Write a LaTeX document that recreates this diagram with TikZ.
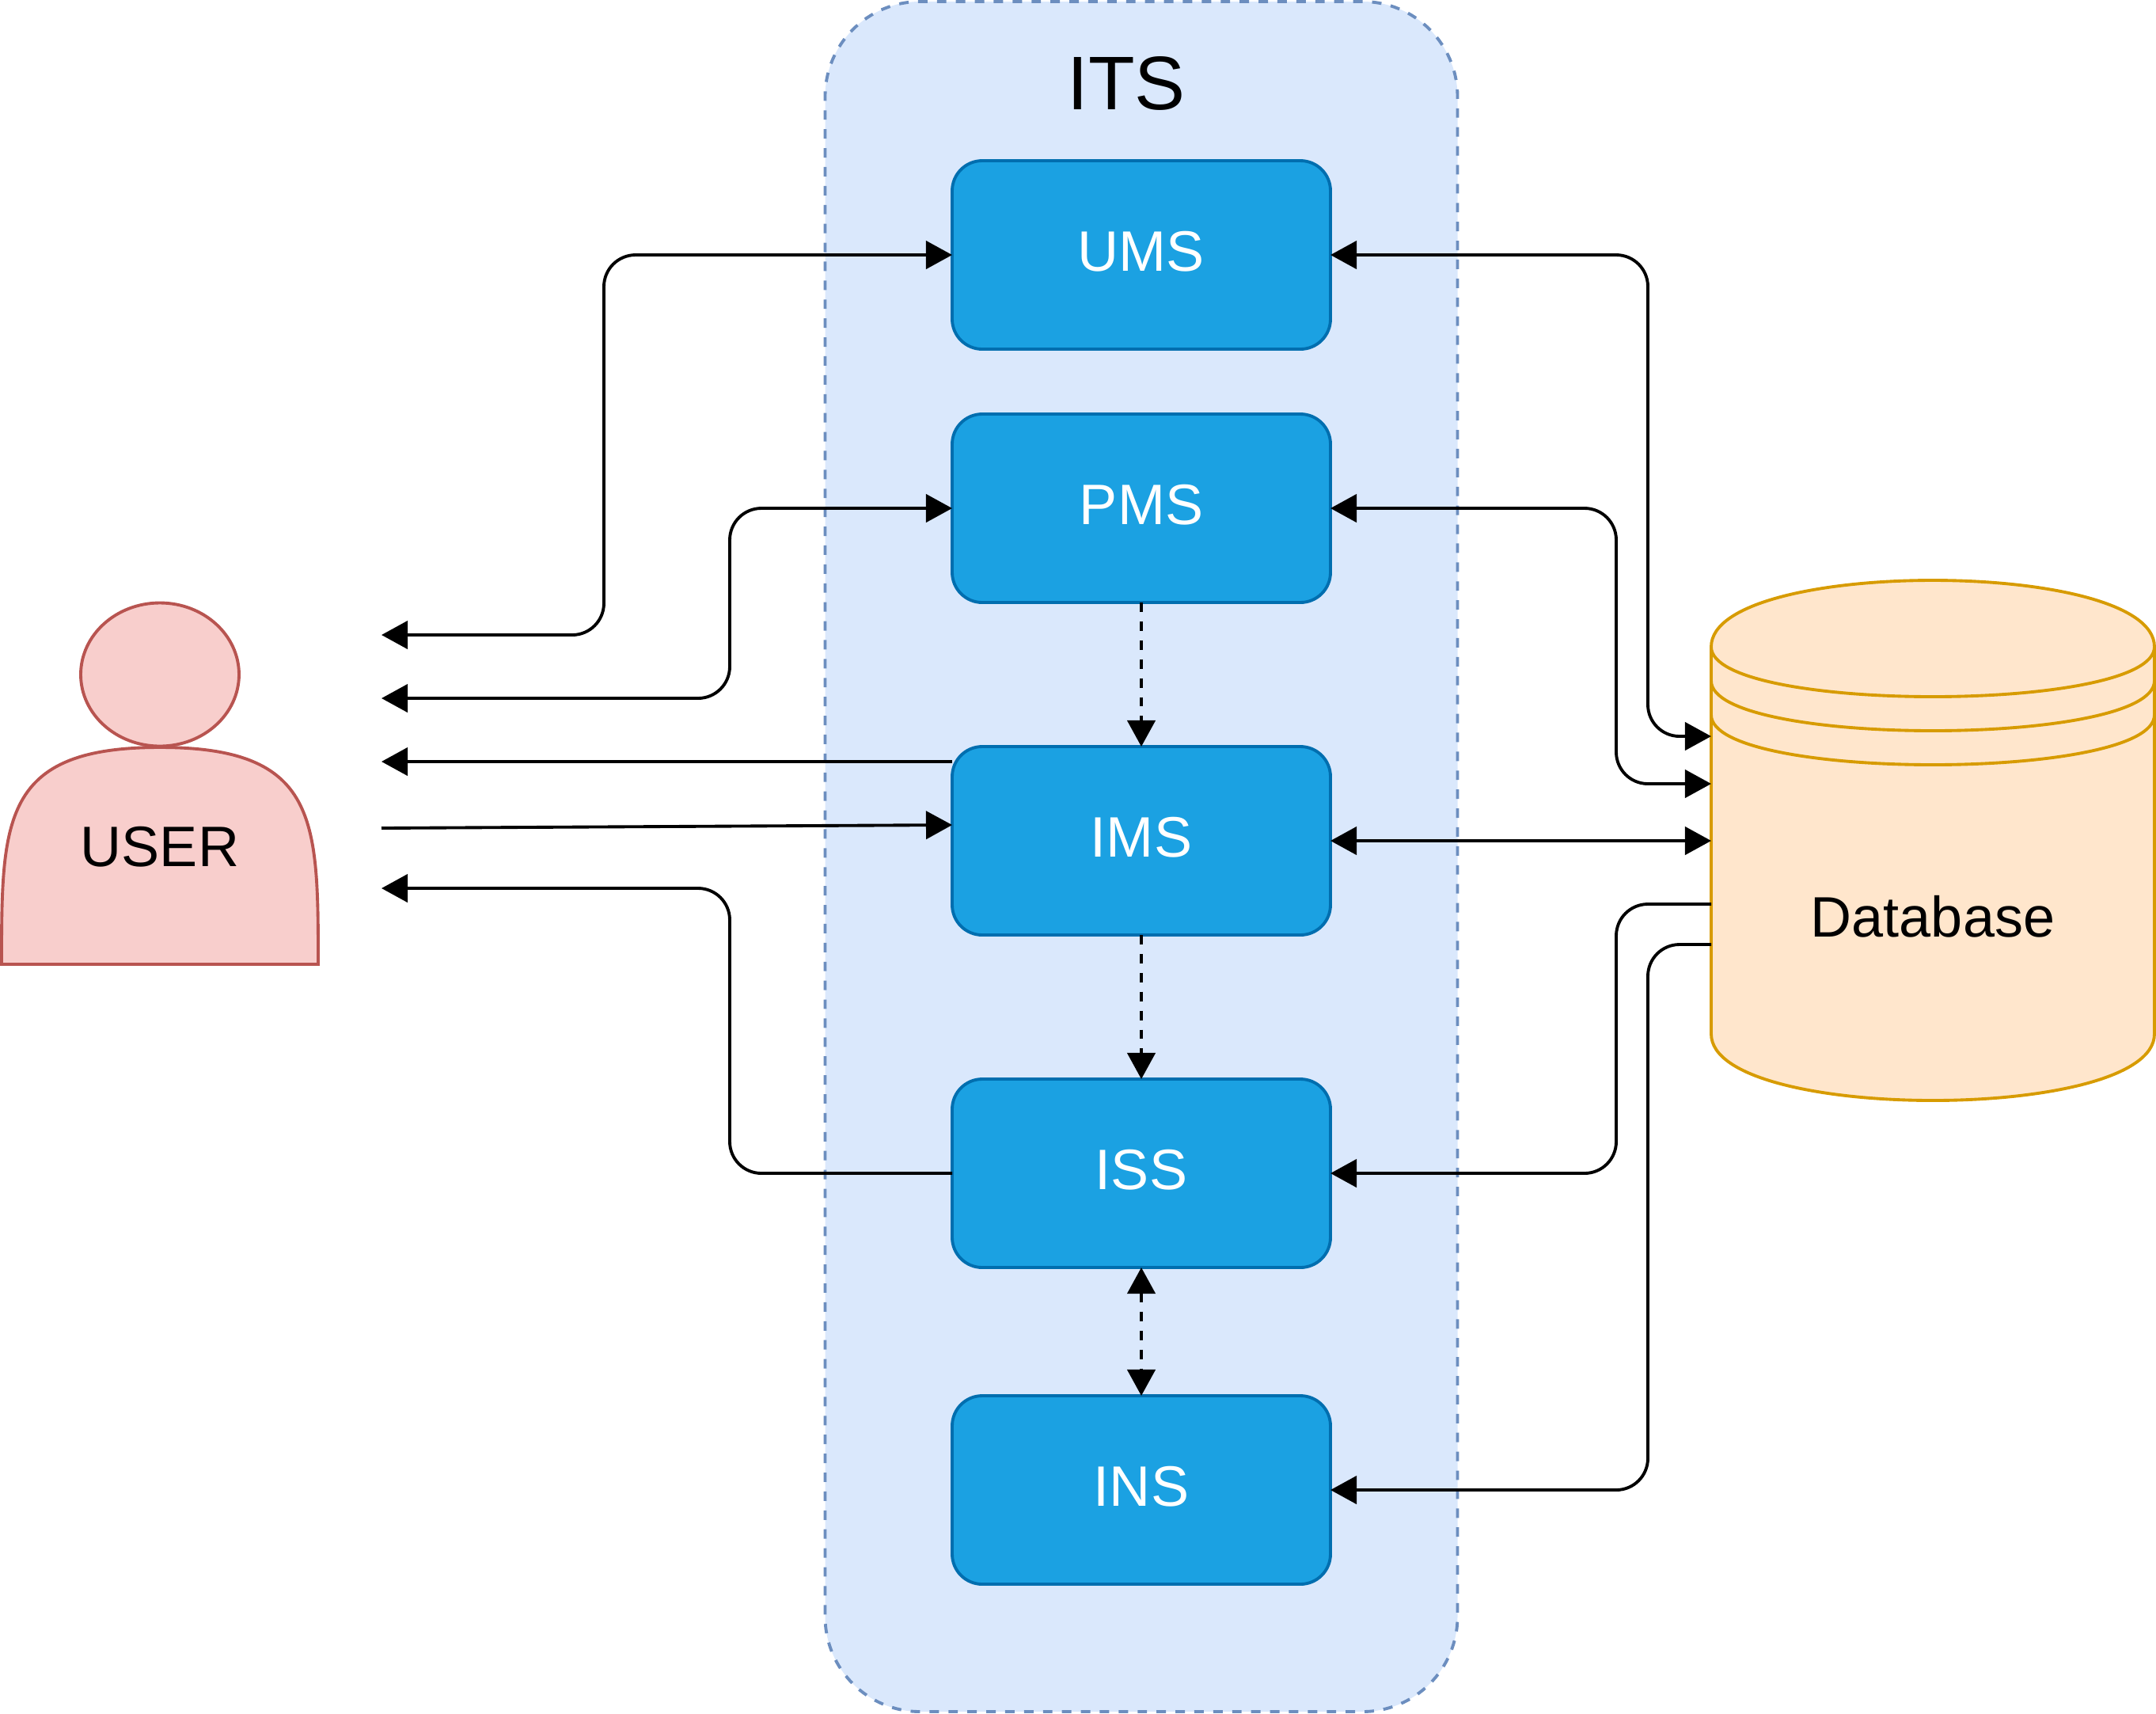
\documentclass[tikz,border=0pt]{standalone}
\usepackage{fontspec}
\setmainfont{Liberation Sans}
\usepackage{xcolor}
\usetikzlibrary{arrows.meta}

\definecolor{itsfill}{HTML}{DAE8FC}
\definecolor{itsline}{HTML}{6C8EBF}
\definecolor{modfill}{HTML}{1BA1E2}
\definecolor{modline}{HTML}{006EAF}
\definecolor{userfill}{HTML}{F8CECC}
\definecolor{userline}{HTML}{B85450}
\definecolor{dbfill}{HTML}{FFE6CC}
\definecolor{dbline}{HTML}{D79B00}

\begin{document}
\begin{tikzpicture}[
  module/.style={draw=modline, fill=modfill, line width=1.1pt, outer sep=0pt, rounded corners=0.38cm, minimum width=4.78cm, minimum height=2.38cm, text height=14.7pt, text depth=3pt, align=center, text=white, font=\fontsize{20.5}{24}\selectfont},
  txt/.style={font=\fontsize{20.5}{24}\selectfont},
  usershape/.style={draw=userline, fill=userfill, line width=1.1pt},
  dbshape/.style={draw=dbline, fill=dbfill, line width=1.1pt},
  arr/.style={-{Triangle[length=9.4pt, width=10pt]}, line width=1.1pt, rounded corners=0.4cm},
  arrboth/.style={{Triangle[length=9.4pt, width=10pt]}-{Triangle[length=9.4pt, width=10pt]}, line width=1.1pt, rounded corners=0.4cm},
  dashline/.style={dash pattern=on 3.4pt off 3.4pt}
]
  \useasboundingbox (0,0) rectangle (27.24,-21.64);

  % ITS container
  \node[draw=itsline, fill=itsfill, line width=1.1pt, dashline, outer sep=0pt, rounded corners=1.2cm, minimum width=7.99cm, minimum height=21.6cm] (its) at (14.42,-10.82) {};
  \node[font=\fontsize{27.3}{32}\selectfont] (itslabel) at (14.23,-1.05) {ITS};

  \node[module] (ums) at (14.42,-3.22) {UMS};
  \node[module] (pms) at (14.42,-6.42) {PMS};
  \node[module] (ims) at (14.42,-10.62) {IMS};
  \node[module] (iss) at (14.42,-14.82) {ISS};
  \node[module] (ins) at (14.42,-18.82) {INS};

  % user
  \filldraw[usershape] (2.02,-8.52) ellipse (1cm and 0.905cm);
  \filldraw[usershape] (0.02,-12.18) .. controls (0.02,-10.35) and (0.02,-9.44) .. (2.02,-9.44) .. controls (4.02,-9.44) and (4.02,-10.35) .. (4.02,-12.18) -- cycle;
  \node[txt] (user) at (2.02,-10.7) {USER};

  % database
  \filldraw[dbshape] (21.62,-8.17) .. controls (21.62,-7.05) and (27.22,-7.05) .. (27.22,-8.17) -- (27.22,-13.06) .. controls (27.22,-14.18) and (21.62,-14.18) .. (21.62,-13.06) -- cycle;
  \foreach \y in {8.17, 8.6, 9.03} {
    \draw[dbshape, fill=none] (21.62,-\y) .. controls (21.62,-\y-0.84) and (27.22,-\y-0.84) .. (27.22,-\y);
  }
  \node[txt] (db) at (24.42,-11.58) {Database};

  \coordinate (userA) at (4.82,-8.02);
  \coordinate (userB) at (4.82,-8.82);
  \coordinate (userC) at (4.82,-9.62);
  \coordinate (userD) at (4.82,-10.46);
  \coordinate (userE) at (4.82,-11.22);
  \coordinate (imsOut) at (12.03,-9.62);
  \coordinate (imsIn) at (12.03,-10.42);
  \coordinate (dbA) at (21.62,-9.3);
  \coordinate (dbB) at (21.62,-9.9);
  \coordinate (dbC) at (21.62,-10.62);
  \coordinate (dbD) at (21.62,-11.42);
  \coordinate (dbE) at (21.62,-11.93);

  \draw[arrboth] (ums.west) -- ++(-4.4,0) |- (userA);
  \draw[arrboth] (pms.west) -- ++(-2.81,0) |- (userB);
  \draw[arr] (imsOut) -- (userC);
  \draw[arr] (userD) -- (imsIn);
  \draw[arr] (iss.west) -- ++(-2.81,0) |- (userE);

  \draw[arrboth] (ums.east) -- ++(4.01,0) |- (dbA);
  \draw[arrboth] (pms.east) -- ++(3.61,0) |- (dbB);
  \draw[arrboth] (ims.east) -- (dbC);
  \draw[arr] (dbD) -- ++(-1.2,0) |- (iss.east);
  \draw[arr] (dbE) -- ++(-0.8,0) |- (ins.east);

  \draw[arr, dashline] (pms) -- (ims);
  \draw[arr, dashline] (ims) -- (iss);
  \draw[arrboth, dashline] (iss) -- (ins);
\end{tikzpicture}
\end{document}
